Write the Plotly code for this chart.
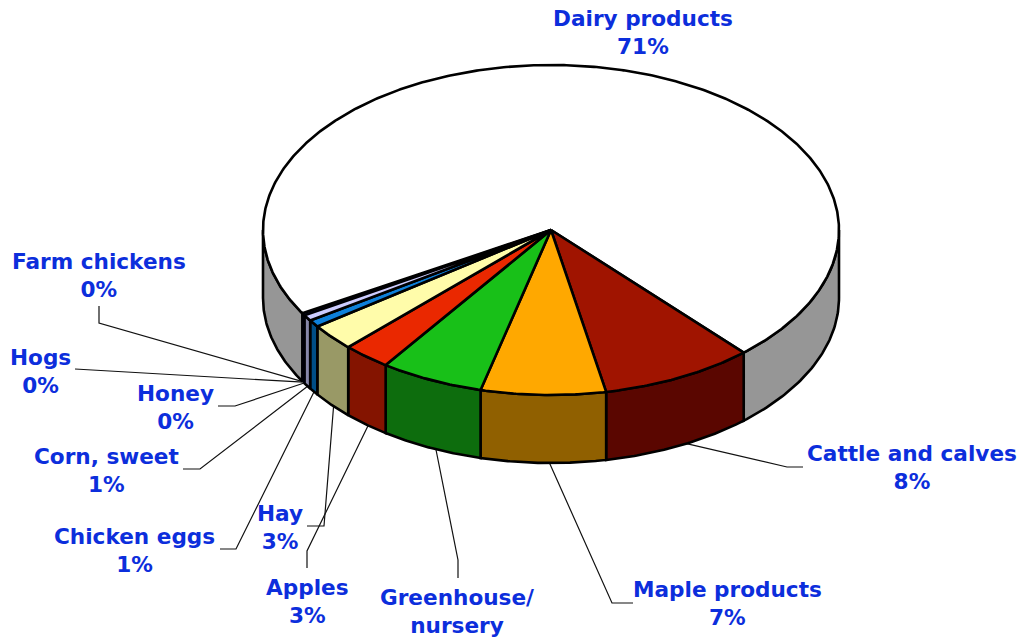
import numpy as np
import plotly.graph_objects as go

categories = ["Dairy products", "Cattle and calves", "Maple products", "Greenhouse/<br>nursery", "Apples", "Hay",
              "Chicken eggs", "Corn, sweet", "Honey", "Hogs", "Farm chickens"]
shares = [71.75, 8.6, 7.0, 5.8, 2.7, 2.63, 0.70, 0.58, 0.10, 0.07, 0.07]
shown_pct = ["71%", "8%", "7%", "", "3%", "3%", "1%", "1%", "0%", "0%", "0%"]
top_colors = ["#FFFFFF", "#A01400", "#FFA800", "#18C018", "#EA2800", "#FFFCAA", "#0E80DA", "#CCCCFF", "#000080", "#000080", "#000080"]
side_colors = ["#969696", "#5A0600", "#906000", "#0D6D0D", "#841400", "#999966", "#004E86", "#8888AA", "#000050", "#000050", "#000050"]

CX, CY, RX, RY, DEPTH = 551, 230, 288, 165, 68
START_DEG = 48 - 360 * shares[0] / sum(shares)

label_xy = [(643, 32), (912, 467), (727, 603), (457, 611), (307, 601), (280, 527), (134, 550), (106, 470), (175, 407), (40, 371), (99, 275)]
leader_knees = [None, [(803, 467), (787, 467)], [(633, 603), (612, 603)], [(458, 578), (458, 560)],
                [(307, 568), (307, 551)], [(307, 526), (324, 526)], [(220, 549), (236, 549)],
                [(183, 469), (200, 469)], [(218, 406), (235, 406)], [(75, 369), (92, 370)], [(99, 306), (99, 323)]]

total = sum(shares)
edges = START_DEG + np.concatenate([[0], np.cumsum(shares)]) * 360 / total


def rim(deg, drop=0.0):
    t = np.radians(deg)
    return CX + RX * np.cos(t), CY + RY * np.sin(t) + drop


def outline(i):
    # the three slivers would be solid black under the full outline
    return dict(color="#000000", width=2.6 if shares[i] >= 0.2 else 0.8)


fig = go.Figure()

# Leaders first, so the pie covers their ends
for i, knees in enumerate(leader_knees):
    if knees is None:
        continue
    ex, ey = rim(edges[i] + 0.45 * (edges[i + 1] - edges[i]), DEPTH)
    xs = [k[0] for k in knees] + [ex]
    ys = [k[1] for k in knees] + [ey]
    fig.add_trace(go.Scatter(x=xs, y=ys, mode="lines", line=dict(color="#111111", width=1.2), hoverinfo="skip"))

# Side walls: only the front half of the rim (0..180 degrees) is visible
for i in range(len(shares)):
    for lo, hi in ((edges[i], edges[i + 1]), (edges[i] + 360, edges[i + 1] + 360)):
        a, b = max(lo, 0), min(hi, 180)
        if a >= b:
            continue
        t = np.linspace(a, b, 60)
        x1, y1 = rim(t)
        x2, y2 = rim(t[::-1], DEPTH)
        fig.add_trace(go.Scatter(x=np.r_[x1, x2, x1[0]], y=np.r_[y1, y2, y1[0]], mode="lines", fill="toself",
                                 fillcolor=side_colors[i], line=outline(i), hoverinfo="skip"))

# Top faces
for i in range(len(shares)):
    t = np.linspace(edges[i], edges[i + 1], max(int(edges[i + 1] - edges[i]) * 2, 8))
    x1, y1 = rim(t)
    fig.add_trace(go.Scatter(x=np.r_[CX, x1, CX], y=np.r_[CY, y1, CY], mode="lines", fill="toself",
                             fillcolor=top_colors[i], line=outline(i), hoverinfo="skip"))

for name, pct, (x, y) in zip(categories, shown_pct, label_xy):
    text = name + ("<br>" + pct if pct else "")
    fig.add_annotation(x=x, y=y, text=text, showarrow=False, align="center",
                       font=dict(family="DejaVu Sans", size=21.6, color="#0C2EDC", weight="bold"))

fig.update_layout(width=1021, height=640, margin=dict(l=0, r=0, t=0, b=0), showlegend=False,
                  paper_bgcolor="white", plot_bgcolor="white",
                  xaxis=dict(range=[0, 1021], visible=False, fixedrange=True),
                  yaxis=dict(range=[640, 0], visible=False, fixedrange=True))
fig.write_html("out.html", config={"displayModeBar": False},
               post_script="document.body.style.margin='0';document.body.style.overflow='hidden';")
